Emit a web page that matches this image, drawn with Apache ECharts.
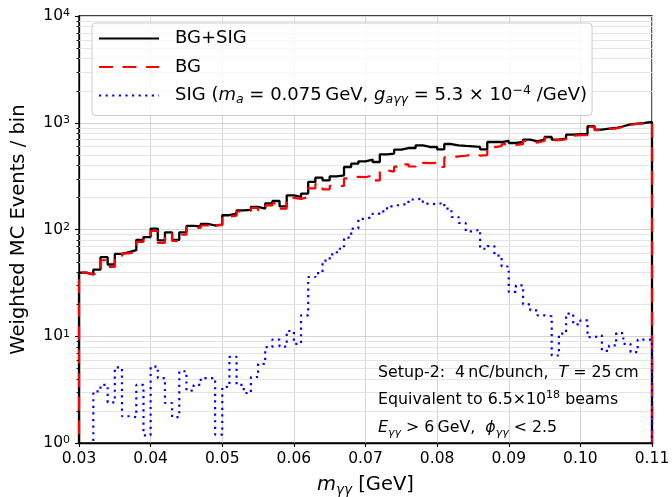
<!DOCTYPE html>
<html><head><meta charset="utf-8">
<script src="https://cdn.jsdelivr.net/npm/echarts@6/dist/echarts.min.js"></script>
<style>html,body{margin:0;padding:0;background:#fff}#c{width:672px;height:497px}</style>
</head><body><div id="c"></div>
<script>
// Bin edges in m_gg [GeV]
const binEdges = [0.030,0.031,0.032,0.033,0.034,0.035,0.036,0.037,0.038,0.039,
  0.040,0.041,0.042,0.043,0.044,0.045,0.046,0.047,0.048,0.049,
  0.050,0.051,0.052,0.053,0.054,0.055,0.056,0.057,0.058,0.059,
  0.060,0.061,0.062,0.063,0.064,0.065,0.066,0.067,0.068,0.069,
  0.070,0.071,0.072,0.073,0.074,0.075,0.076,0.077,0.078,0.079,
  0.080,0.081,0.082,0.083,0.084,0.085,0.086,0.087,0.088,0.089,
  0.090,0.091,0.092,0.093,0.094,0.095,0.096,0.097,0.098,0.099,
  0.100,0.101,0.102,0.103,0.104,0.105,0.106,0.107,0.108,0.109,0.110];

// BG+SIG
const bgSig = [39.5,38,42,55,47,59,61.5,64,80,85,
  102,79,94,80,94,108,107,113,109,111,
  136,141,151,153,163,157,176,185,165,209,
  202,217,279,306,289,315,322,385,414,435,
  452,429,506,514,560,580,580,615,593,593,
  564,632,615,606,602,593,564,660,660,675,
  646,660,695,670,695,735,695,710,774,780,
  780,927,862,881,893,927,967,982,995,1016];

// BG
const bg = [39.5,38,39,51.5,44.6,54,59.7,62.3,76.5,83.8,
  96.8,75,91.6,78.3,89.3,105,103.5,109,105,109.8,
  132.6,134.6,147.5,150,159,151.5,168,176,157,198,
  193.5,201,243,267,238,256,256,301,312,309,
  321,288,358,349,388,408,389,420,418,421,
  385,475,484,491,506,493,498,590,603,630,
  620,630,675,652,679,720,688,699,758,767,
  766,917,852,874,885,916,958,975,986,1007];

// SIG
const sig = [0,0,3.05,3.5,2.4,5.1,1.78,1.75,3.5,1.18,
  5.2,4.06,2.37,1.75,4.7,3.1,3.5,4.06,4.06,1.2,
  3.35,6.4,3.5,2.94,4.15,5.5,7.9,9.3,8.0,11.2,
  8.5,15.7,35.9,39,51,58.6,66,84,102,126,
  131,141,148,165,172,172,191,195,175,172,
  179,157,131,115,96,100,66,70,57,45,
  26,30,19.9,17.5,15.7,15.4,6.6,10.6,16.3,12.9,
  14.1,9.8,10.2,7.3,8.2,10.7,8.5,7.1,9.3,9.3];

const seriesNames = ['BG+SIG', 'BG', 'SIG'];
const legendLabels = {
  'BG+SIG': 'BG+SIG',
  'BG': 'BG',
  'SIG': 'SIG ({i|m}{s|a} = 0.075\u2009GeV, {i|g}{s|a\u03b3\u03b3} = 5.3 \u00d7 10{p|\u22124} /GeV)'
};
const xTicks = [0.03,0.04,0.05,0.06,0.07,0.08,0.09,0.10,0.11];
const annotationLines = [
  'Setup-2:  4\u2009nC/bunch,  {i|T} = 25\u2009cm',
  'Equivalent to 6.5\u00d710{p|18} beams',
  '{i|E}{s|\u03b3\u03b3} > 6\u2009GeV,  {i|\u03d5}{s|\u03b3\u03b3} < 2.5'
];

const FONT = 'DejaVu Sans';
const FLOOR = 1e-3;
function stepData(vals) {
  const n = vals.length;
  const pts = [[binEdges[0], FLOOR]];
  for (let i = 0; i < n; i++) pts.push([binEdges[i], vals[i] > 0 ? vals[i] : FLOOR]);
  pts.push([binEdges[n], vals[n - 1] > 0 ? vals[n - 1] : FLOOR]);
  pts.push([binEdges[n], FLOOR]);
  return pts;
}

const chart = echarts.init(document.getElementById('c'), null, {renderer: 'canvas'});
const lineW = 2.2;
const richLegend = {
  i: {fontFamily: FONT, fontStyle: 'italic', fontSize: 18, lineHeight: 22, color: '#000'},
  s: {fontFamily: FONT, fontStyle: 'italic', fontSize: 12.5, lineHeight: 12, verticalAlign: 'bottom', color: '#000'},
  p: {fontFamily: FONT, fontSize: 12.5, lineHeight: 12, verticalAlign: 'top', color: '#000'}
};
const richAnno = {
  i: {fontFamily: FONT, fontStyle: 'italic', fontSize: 15.8, lineHeight: 20, fill: '#000'},
  s: {fontFamily: FONT, fontStyle: 'italic', fontSize: 11, lineHeight: 10, verticalAlign: 'bottom', fill: '#000'},
  p: {fontFamily: FONT, fontSize: 11, lineHeight: 10, verticalAlign: 'top', fill: '#000'}
};

chart.setOption({
  animation: false,
  backgroundColor: '#fff',
  textStyle: {fontFamily: FONT},
  grid: {left: 79, top: 16, right: 20, bottom: 54, containLabel: false, outerBoundsMode: 'none',
    show: true, borderColor: '#000', borderWidth: 1.3, backgroundColor: 'transparent'},
  legend: {
    show: true, orient: 'vertical', left: 92, top: 23,
    padding: [4.5, 5, 9, 6], itemGap: 6.5, itemWidth: 60, itemHeight: 14,
    backgroundColor: 'rgba(255,255,255,0.8)', borderColor: '#cccccc', borderWidth: 1, borderRadius: 4,
    itemStyle: {opacity: 0, borderWidth: 0},
    data: seriesNames,
    formatter: name => legendLabels[name],
    textStyle: {fontFamily: FONT, fontSize: 18, lineHeight: 22, color: '#000', padding: [0, 0, 0, 11], rich: richLegend}
  },
  xAxis: {
    type: 'value', min: xTicks[0], max: xTicks[xTicks.length - 1], interval: 0.01,
    name: '{i|m}{s|\u03b3\u03b3} [GeV]', nameLocation: 'middle', nameGap: 30,
    nameTextStyle: {fontFamily: FONT, fontSize: 19.5, color: '#000', lineHeight: 24,
      rich: {i: {fontFamily: FONT, fontStyle: 'italic', fontSize: 19.5, lineHeight: 24}, s: {fontFamily: FONT, fontStyle: 'italic', fontSize: 13.5, lineHeight: 13, verticalAlign: 'bottom'}}},
    axisLine: {show: true, onZero: false, lineStyle: {color: '#000', width: 1.3}},
    axisTick: {show: true, inside: false, length: 4, lineStyle: {color: '#000', width: 1.1}},
    axisLabel: {fontFamily: FONT, fontSize: 15.5, color: '#000', margin: 8, formatter: v => v.toFixed(2)},
    splitLine: {show: true, lineStyle: {color: '#d4d4d4', width: 1}}
  },
  yAxis: {
    type: 'log', logBase: 10, min: 1, max: 10000,
    name: 'Weighted MC Events / bin', nameLocation: 'middle', nameGap: 50,
    nameTextStyle: {fontFamily: FONT, fontSize: 19.5, color: '#000'},
    axisLine: {show: true, lineStyle: {color: '#000', width: 1.3}},
    axisTick: {show: true, inside: false, length: 4, lineStyle: {color: '#000', width: 1.1}},
    minorTick: {show: false},
    axisLabel: {fontFamily: FONT, fontSize: 15.5, color: '#000', margin: 9,
      formatter: v => '10{p|' + Math.round(Math.log10(v)) + '}',
      rich: {p: {fontFamily: FONT, fontSize: 11, lineHeight: 9, verticalAlign: 'top', color: '#000'}}},
    splitLine: {show: true, lineStyle: {color: '#d4d4d4', width: 1}}
  },
  series: [
    {name: seriesNames[0], type: 'line', step: 'end', data: stepData(bgSig), symbol: 'none', showSymbol: false,
     clip: true, z: 3, lineStyle: {color: '#000000', width: 2.3, type: 'solid'}, itemStyle: {color: '#000000'}},
    {name: seriesNames[1], type: 'line', step: 'end', data: stepData(bg), symbol: 'none', showSymbol: false,
     clip: true, z: 4, lineStyle: {color: '#ff0000', width: lineW, type: [14, 9.5]}, itemStyle: {color: '#ff0000'}},
    {name: seriesNames[2], type: 'line', step: 'end', data: stepData(sig), symbol: 'none', showSymbol: false,
     clip: true, z: 5, lineStyle: {color: '#0000ff', width: lineW, type: [2.2, 4.4]}, itemStyle: {color: '#0000ff'}}
  ]
});

// Minor log grid lines and minor ticks, positioned with the axis scales
const minorVals = [];
for (let e = 0; e < 4; e++) for (let m = 2; m <= 9; m++) minorVals.push(m * Math.pow(10, e));
const xL = chart.convertToPixel({xAxisIndex: 0}, xTicks[0]);
const xR = chart.convertToPixel({xAxisIndex: 0}, xTicks[xTicks.length - 1]);
const graphics = [];
minorVals.forEach(v => {
  const y = Math.round(chart.convertToPixel({yAxisIndex: 0}, v)) + 0.5;
  graphics.push({type: 'line', z: 1, silent: true, shape: {x1: xL, y1: y, x2: xR, y2: y}, style: {stroke: '#e4e4e4', lineWidth: 1}});
  graphics.push({type: 'line', z: 10, silent: true, shape: {x1: xL - 2.5, y1: y, x2: xL, y2: y}, style: {stroke: '#000', lineWidth: 0.9}});
});
const annoY = [373.3, 400, 428.3];
annotationLines.forEach((t, i) => {
  graphics.push({type: 'text', z: 10, silent: true, x: 378, y: annoY[i],
    style: {text: t, fill: '#000', font: '15.8px "DejaVu Sans"', fontFamily: FONT, fontSize: 15.8, lineHeight: 20,
      align: 'left', verticalAlign: 'middle', rich: richAnno}});
});
chart.setOption({graphic: graphics});
</script></body></html>
